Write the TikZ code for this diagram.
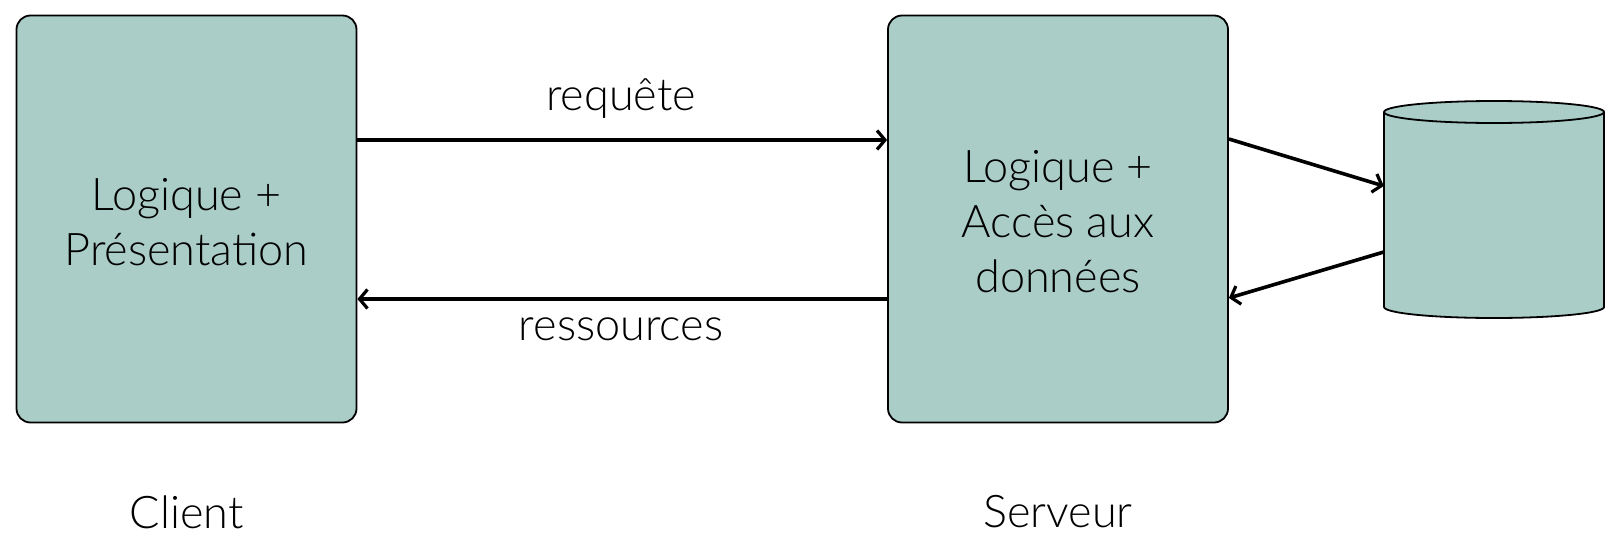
\documentclass[tikz,border=0pt]{standalone}
\usepackage{fontspec}
\setmainfont{Lato Light}
\usetikzlibrary{arrows.meta}
\definecolor{boxfill}{RGB}{170,205,199}
\begin{document}
\begin{tikzpicture}[x=1pt,y=-1pt,
  box/.style={draw=black, line width=1.8pt, fill=boxfill, rounded corners=14pt, minimum width=340pt, minimum height=407pt, inner sep=0pt},
  lbl/.style={font=\fontsize{45}{55}\selectfont, align=center, inner sep=0pt},
  conn/.style={line width=3.6pt, -{Straight Barb[length=8pt,width=19pt,line width=3.2pt]}}
]
\useasboundingbox (0,0) rectangle (1623,557);
\node[box] (cl) at (186.5,219) {};
\node[box] (srv) at (1058,219) {};
\node[lbl] (cltxt) at (186.5,222) {Logique +\\Présentation};
\node[lbl] (srvtxt) at (1058,222) {Logique +\\Accès aux\\données};
% cylinder
\fill[boxfill] (1384,112) -- (1384,307) arc[start angle=180,end angle=360,x radius=110,y radius=-11] -- (1604,112) -- cycle;
\draw[line width=1.8pt] (1384,112) -- (1384,307) arc[start angle=180,end angle=360,x radius=110,y radius=-11] -- (1604,112);
\draw[line width=1.8pt, fill=boxfill] (1494,112) ellipse[x radius=110,y radius=11];
\node[minimum width=220pt, minimum height=195pt, inner sep=0pt] (db) at (1494,209.5) {};
\coordinate (c1) at (srv.east |- 0,139);
\coordinate (c2) at (db.west |- 0,186);
\coordinate (c3) at (db.west |- 0,252);
\coordinate (c4) at (srv.east |- 0,298);
\draw[conn] (cl.east |- 0,140) -- (srv.west |- 0,140);
\draw[conn] (srv.west |- 0,299) -- (cl.east |- 0,299);
\draw[conn] (c1) -- (c2);
\draw[conn] (c3) -- (c4);
\node[lbl] (req) at (621,99) {requête};
\node[lbl] (res) at (621,329) {ressources};
\node[lbl] (client) at (186.5,512) {Client};
\node[lbl] (serveur) at (1058,512) {Serveur};
\end{tikzpicture}
\end{document}
